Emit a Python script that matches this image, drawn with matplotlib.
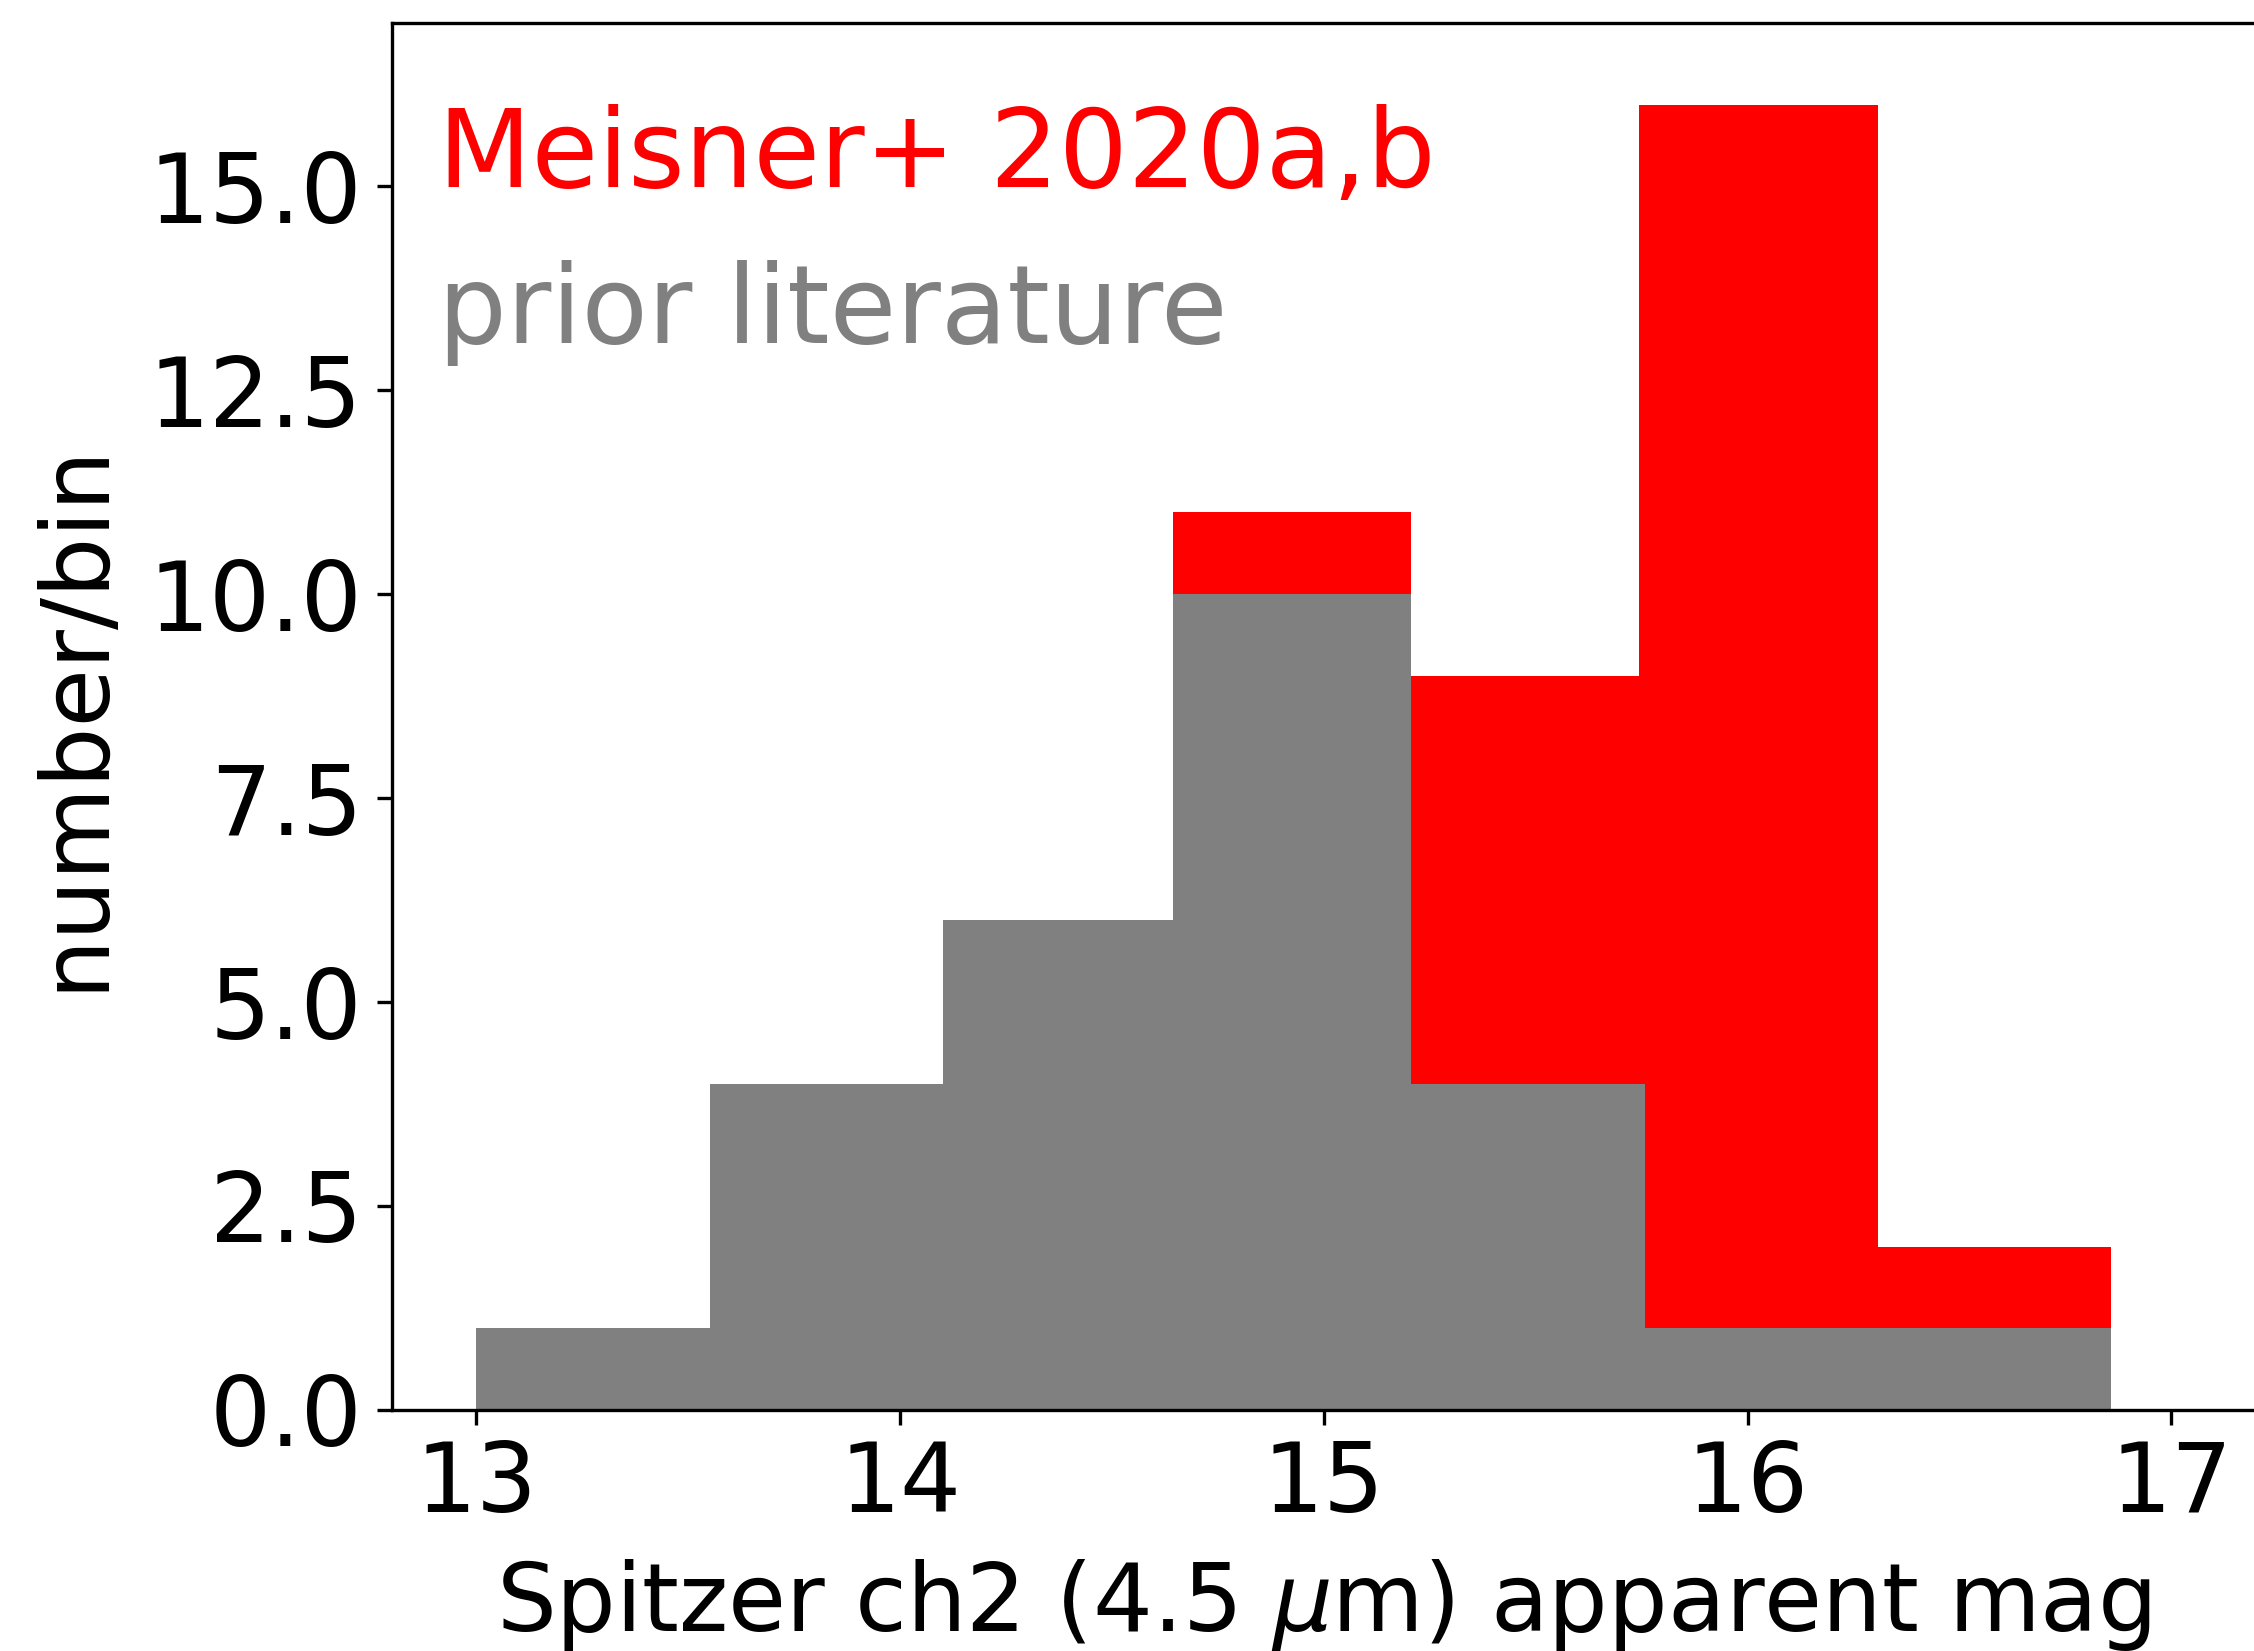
import matplotlib
matplotlib.use("Agg")
import matplotlib.pyplot as plt

# --- histogram data (counts per magnitude bin) ---
# prior literature sample
lit_edges = [13.0, 13.551, 14.102, 14.645, 15.206, 15.757, 16.306, 16.857]
lit_counts = [1, 4, 6, 10, 4, 1, 1]

# all objects incl. Meisner+ 2020a,b (drawn underneath the literature bins)
all_edges = [14.645, 15.206, 15.744, 16.307, 16.857]
all_counts = [11, 9, 16, 2]

RED = "#ff0000"
GRAY = "#808080"


def main():
    fig = plt.figure(figsize=(2254 / 300, 1651 / 300), dpi=300)
    ax = fig.add_axes([0.1737, 0.146, 0.8272, 0.8401])

    ax.stairs(all_counts, all_edges, fill=True, color=RED, linewidth=0)
    ax.stairs(lit_counts, lit_edges, fill=True, color=GRAY, linewidth=0)

    ax.set_xlim(12.8, 17.2)
    ax.set_ylim(0, 17)
    ax.set_xticks([13, 14, 15, 16, 17])
    ax.set_yticks([0, 2.5, 5, 7.5, 10, 12.5, 15])
    ax.set_yticklabels(["0.0", "2.5", "5.0", "7.5", "10.0", "12.5", "15.0"])
    ax.tick_params(labelsize=23)

    ax.set_xlabel(r"Spitzer ch2 (4.5 $\mu$m) apparent mag", fontsize=22.6, labelpad=6)
    ax.set_ylabel("number/bin", fontsize=22.8, labelpad=6.5)

    ax.text(12.91, 14.99, "Meisner+ 2020a,b", color=RED, fontsize=26, va="baseline")
    ax.text(12.91, 13.08, "prior literature", color=GRAY, fontsize=26, va="baseline")

    fig.savefig("out.png", dpi=300)
    plt.close(fig)


if __name__ == "__main__":
    main()
